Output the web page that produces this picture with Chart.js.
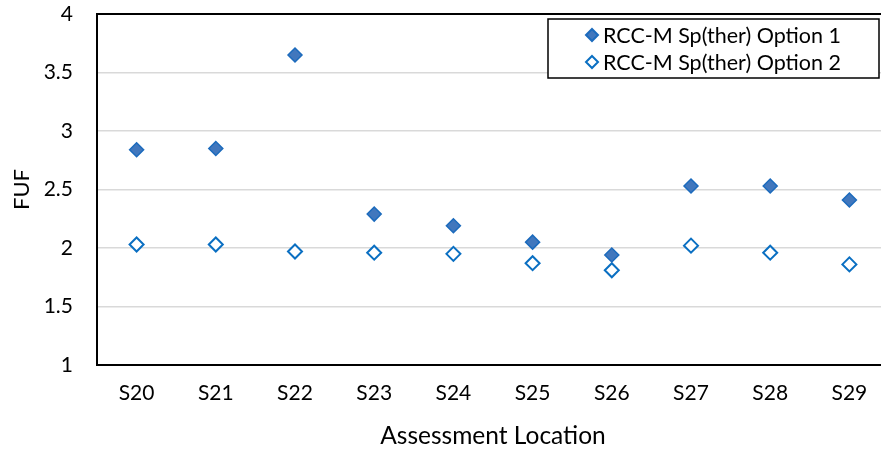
<!DOCTYPE html>
<html>
<head>
<meta charset="utf-8">
<script src="https://cdn.jsdelivr.net/npm/chart.js@4.4.1/dist/chart.umd.min.js"></script>
<style>
  html, body { margin: 0; padding: 0; background: #fff; overflow: hidden; }
  #wrap { width: 881px; height: 451px; overflow: hidden; }
  #c { display: block; }
</style>
</head>
<body>
<div id="wrap"><canvas id="c" width="889" height="451"></canvas></div>
<script>
// Assessment locations along the x axis
const locations = ['S20', 'S21', 'S22', 'S23', 'S24', 'S25', 'S26', 'S27', 'S28', 'S29'];

// Fatigue usage factor (FUF) per location
const option1 = [2.84, 2.85, 3.65, 2.29, 2.19, 2.05, 1.94, 2.53, 2.53, 2.41];
const option2 = [2.03, 2.03, 1.97, 1.96, 1.95, 1.87, 1.81, 2.02, 1.96, 1.86];

const seriesNames = ['RCC-M Sp(ther) Option 1', 'RCC-M Sp(ther) Option 2'];
const yTicks = [1, 1.5, 2, 2.5, 3, 3.5, 4];

const FONT = 'Lato, "Open Sans", sans-serif';

// Frame around the plot area plus a boxed legend in the top-right corner
const framePlugin = {
  id: 'frame',
  afterDatasetsDraw(chart) {
    const { ctx, chartArea: a } = chart;
    ctx.save();
    ctx.strokeStyle = '#000';
    ctx.lineWidth = 2;
    ctx.strokeRect(a.left, a.top, a.right - a.left, a.bottom - a.top);

    // legend box
    const bx = 548, by = 19, bw = 331, bh = 59;
    ctx.fillStyle = '#fff';
    ctx.fillRect(bx, by, bw, bh);
    ctx.lineWidth = 1.5;
    ctx.strokeStyle = '#000';
    ctx.strokeRect(bx, by, bw, bh);

    ctx.font = '21.5px ' + FONT;
    ctx.textBaseline = 'middle';
    ctx.textAlign = 'left';
    chart.data.datasets.forEach((ds, i) => {
      const cy = by + 16 + i * 27;
      const mx = 592, r = 6;
      ctx.beginPath();
      ctx.moveTo(mx, cy - r);
      ctx.lineTo(mx + r, cy);
      ctx.lineTo(mx, cy + r);
      ctx.lineTo(mx - r, cy);
      ctx.closePath();
      ctx.fillStyle = ds.pointBackgroundColor;
      ctx.fill();
      ctx.lineWidth = 2;
      ctx.strokeStyle = ds.pointBorderColor;
      ctx.stroke();
      ctx.fillStyle = '#000';
      ctx.fillText(ds.label, 603, cy + 1);
    });
    ctx.restore();
  }
};

new Chart(document.getElementById('c'), {
  type: 'line',
  data: {
    labels: locations,
    datasets: [
      {
        label: seriesNames[0],
        data: option1,
        showLine: false,
        pointStyle: 'rectRot',
        pointRadius: 7,
        pointBorderWidth: 1.5,
        pointBackgroundColor: '#4177bd',
        pointBorderColor: '#1c6bbd'
      },
      {
        label: seriesNames[1],
        data: option2,
        showLine: false,
        pointStyle: 'rectRot',
        pointRadius: 7,
        pointBorderWidth: 2,
        pointBackgroundColor: '#ffffff',
        pointBorderColor: '#0a6fc2'
      }
    ]
  },
  options: {
    responsive: false,
    animation: false,
    clip: false,
    layout: { autoPadding: false, padding: { top: 14, right: 0, left: 0, bottom: 0 } },
    plugins: {
      legend: { display: false },
      tooltip: { enabled: false }
    },
    scales: {
      x: {
        offset: true,
        grid: { display: false, drawTicks: false },
        border: { display: false },
        ticks: { color: '#000', font: { family: FONT, size: 21 }, padding: 16 },
        title: {
          display: true,
          text: 'Assessment Location',
          color: '#000',
          font: { family: FONT, size: 24.5 },
          padding: { top: 8, bottom: 0 }
        },
        afterFit(s) {
          s.height = 86;
          s.paddingLeft = 0;
          s.paddingRight = 0;
        }
      },
      y: {
        min: 1,
        max: 4,
        afterBuildTicks(s) { s.ticks = yTicks.map(v => ({ value: v })); },
        grid: {
          color: '#d9d9d9',
          lineWidth: 1.5,
          drawTicks: true,
          tickLength: 24,
          tickColor: 'rgba(0,0,0,0)'
        },
        border: { display: false },
        ticks: {
          color: '#000',
          font: { family: FONT, size: 21 },
          padding: 0,
          callback: v => String(v)
        },
        title: {
          display: true,
          text: 'FUF',
          color: '#000',
          font: { family: FONT, size: 22 },
          padding: { top: 9, bottom: 4 }
        },
        afterFit(s) { s.width = 97; }
      }
    }
  },
  plugins: [framePlugin]
});
</script>
</body>
</html>
